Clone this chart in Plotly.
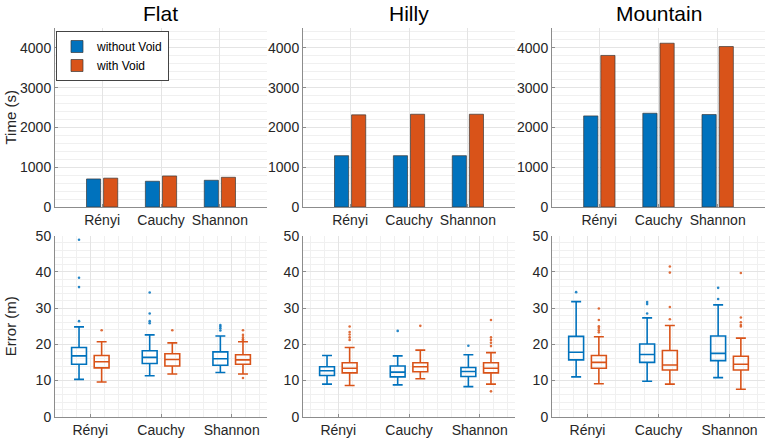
import plotly.graph_objects as go

# ---------------- data ----------------
methods = ["Rényi", "Cauchy", "Shannon"]
terrains = ["Flat", "Hilly", "Mountain"]
series_names = ["without Void", "with Void"]

# Time (s) bars
time_without_flat = [705, 647, 672]
time_with_flat = [725, 780, 747]
time_without_hilly = [1290, 1290, 1290]
time_with_hilly = [2316, 2332, 2332]
time_without_mountain = [2290, 2357, 2324]
time_with_mountain = [3810, 4117, 4034]

# Error (m) box stats per method: (lower whisker, q1, median, q3, upper whisker)
err_without_flat = [(10.3, 14.5, 16.8, 19.1, 24.8), (11.3, 14.7, 16.4, 18.2, 22.6), (12.2, 14.2, 16.0, 17.9, 22.3)]
err_with_flat = [(9.6, 13.5, 15.2, 16.9, 20.7), (11.8, 14.0, 15.8, 17.4, 20.4), (11.8, 14.5, 15.7, 17.1, 20.7)]
err_without_hilly = [(9.0, 11.4, 12.7, 13.8, 16.9), (8.8, 11.0, 12.3, 14.0, 16.8), (8.3, 11.1, 12.5, 13.6, 17.1)]
err_with_hilly = [(8.6, 12.1, 13.4, 14.9, 19.1), (10.5, 12.4, 13.8, 14.9, 18.4), (9.0, 12.1, 13.4, 14.9, 17.7)]
err_without_mountain = [(11.0, 15.7, 17.8, 22.2, 31.8), (9.8, 15.0, 17.2, 20.1, 27.3), (10.8, 15.5, 17.5, 22.3, 30.9)]
err_with_mountain = [(9.1, 13.4, 15.0, 16.9, 22.1), (9.0, 12.9, 14.3, 18.3, 25.2), (7.6, 12.9, 14.5, 16.7, 21.7)]

# Outliers per method
out_without_flat = [[48.9, 38.4, 35.8, 26.4], [34.3, 28.5, 26.4, 25.8], [25.3, 24.9, 24.4, 23.8]]
out_with_flat = [[23.9], [23.9], [23.9, 22.6, 21.9, 21.4, 21.0, 10.7]]
out_without_hilly = [[], [23.7], [19.6]]
out_with_hilly = [[24.9, 23.4, 22.7, 21.9, 21.2], [25.1], [26.7, 21.9, 21.2, 20.4, 19.5, 7.0]]
out_without_mountain = [[34.4], [31.7, 31.1, 28.5], [35.6, 32.5]]
out_with_mountain = [[29.9, 26.7, 25.0, 24.5, 23.9, 23.3], [41.5, 39.8, 30.3, 26.9], [39.7, 27.4, 26.1, 25.3, 24.9]]

time_without = [time_without_flat, time_without_hilly, time_without_mountain]
time_with = [time_with_flat, time_with_hilly, time_with_mountain]
err_without = [err_without_flat, err_without_hilly, err_without_mountain]
err_with = [err_with_flat, err_with_hilly, err_with_mountain]
out_without = [out_without_flat, out_without_hilly, out_without_mountain]
out_with = [out_with_flat, out_with_hilly, out_with_mountain]

# ---------------- style ----------------
BLUE = "#0072BD"
ORANGE = "#D95319"
W, H = 765, 439
FONT = "Liberation Sans, Arial, sans-serif"
TXT = "#262626"
AXC = "#8c8c8c"

x_dom = [(55 / W, 267 / W), (303 / W, 515 / W), (552 / W, 1.0)]
top_dom = (1 - 207 / H, 1 - 28 / H)
bot_dom = (1 - 416.7 / H, 1 - 235.7 / H)

bar_w = 0.24
bar_off = 0.145
box_off = 0.16
box_w = 0.21

pos = [1, 2, 3]

fig = go.Figure()

for i in range(3):
    xa_top = "x" if i == 0 else f"x{i + 1}"
    ya_top = "y" if i == 0 else f"y{i + 1}"
    xa_bot = f"x{i + 4}"
    ya_bot = f"y{i + 4}"

    # bars
    for s, (vals, col, off) in enumerate([(time_without[i], BLUE, -bar_off), (time_with[i], ORANGE, bar_off)]):
        fig.add_trace(go.Bar(
            x=pos, y=vals, width=bar_w, offset=off - bar_w / 2,
            marker=dict(color=col, line=dict(color="#3a3a3a", width=0.7)),
            name=series_names[s], legendgroup=series_names[s], showlegend=(i == 0),
            xaxis=xa_top, yaxis=ya_top,
        ))

    # boxes
    for s, (stats, outs, col, off) in enumerate([(err_without[i], out_without[i], BLUE, -box_off),
                                                   (err_with[i], out_with[i], ORANGE, box_off)]):
        xs = [p + off for p in pos]
        fig.add_trace(go.Box(
            x=xs,
            lowerfence=[st[0] for st in stats],
            q1=[st[1] for st in stats],
            median=[st[2] for st in stats],
            q3=[st[3] for st in stats],
            upperfence=[st[4] for st in stats],
            width=box_w, whiskerwidth=0.67,
            fillcolor="rgba(0,0,0,0)", line=dict(color=col, width=1.6),
            boxpoints=False, showlegend=False, hoverinfo="skip",
            xaxis=xa_bot, yaxis=ya_bot,
        ))
        ox, oy = [], []
        for k, o in enumerate(outs):
            ox += [xs[k]] * len(o)
            oy += o
        fig.add_trace(go.Scatter(
            x=ox, y=oy, mode="markers",
            marker=dict(color=col, size=2.6, opacity=0.85),
            showlegend=False, xaxis=xa_bot, yaxis=ya_bot,
        ))

common = dict(
    showline=True, linecolor=AXC, linewidth=1, mirror=False,
    ticks="inside", ticklen=3, tickcolor=AXC,
    tickfont=dict(size=14, color=TXT, family=FONT),
    showgrid=True, gridcolor="#e4e4e4", gridwidth=1, zeroline=False,
    automargin=False,
)

layout = dict()
for i in range(3):
    kx_t = "xaxis" if i == 0 else f"xaxis{i + 1}"
    ky_t = "yaxis" if i == 0 else f"yaxis{i + 1}"
    kx_b = f"xaxis{i + 4}"
    ky_b = f"yaxis{i + 4}"
    ya_t = "y" if i == 0 else f"y{i + 1}"
    xa_t = "x" if i == 0 else f"x{i + 1}"
    layout[kx_t] = dict(common, domain=x_dom[i], anchor=ya_t, range=[0.2, 3.8],
                        tickmode="array", tickvals=pos, ticktext=methods)
    layout[ky_t] = dict(common, domain=top_dom, anchor=xa_t, range=[0, 4500],
                        tickmode="array", tickvals=[0, 1000, 2000, 3000, 4000],
                        minor=dict(dtick=200, tick0=0, showgrid=True, gridcolor="#f0f0f0", ticks=""))
    layout[kx_b] = dict(common, domain=x_dom[i], anchor=f"y{i + 4}", range=[0.5, 3.5],
                        tickmode="array", tickvals=pos, ticktext=methods,
                        minor=dict(dtick=0.2, tick0=0, showgrid=True, gridcolor="#f0f0f0", ticks=""))
    layout[ky_b] = dict(common, domain=bot_dom, anchor=f"x{i + 4}", range=[0, 50],
                        tickmode="array", tickvals=[0, 10, 20, 30, 40, 50],
                        minor=dict(dtick=2, tick0=0, showgrid=True, gridcolor="#f0f0f0", ticks=""))

annotations = []
for i, t in enumerate(terrains):
    annotations.append(dict(text=t, x=(x_dom[i][0] + x_dom[i][1]) / 2, y=1 - 14 / H,
                            xref="paper", yref="paper", showarrow=False,
                            xanchor="center", yanchor="middle",
                            font=dict(size=21, color="#000000", family=FONT)))
annotations.append(dict(text="Time (s)", x=10 / W, y=(top_dom[0] + top_dom[1]) / 2, textangle=-90,
                        xref="paper", yref="paper", showarrow=False, xanchor="center", yanchor="middle",
                        font=dict(size=15, color=TXT, family=FONT)))
annotations.append(dict(text="Error (m)", x=10 / W, y=(bot_dom[0] + bot_dom[1]) / 2, textangle=-90,
                        xref="paper", yref="paper", showarrow=False, xanchor="center", yanchor="middle",
                        font=dict(size=15, color=TXT, family=FONT)))

fig.update_layout(
    width=W, height=H,
    margin=dict(l=0, r=0, t=0, b=0),
    paper_bgcolor="white", plot_bgcolor="white",
    template="none",
    barmode="overlay", boxmode="overlay",
    font=dict(family=FONT, color=TXT),
    annotations=annotations,
    legend=dict(x=56 / W, y=1 - 31 / H, xanchor="left", yanchor="top",
                bgcolor="white", bordercolor="#444444", borderwidth=1,
                font=dict(size=12, color="#000000", family=FONT),
                tracegroupgap=0, itemwidth=30),
    **layout,
)

fig.write_html("out.html", config={"displayModeBar": False},
               post_script="document.body.style.margin='0';document.body.style.overflow='hidden';")
